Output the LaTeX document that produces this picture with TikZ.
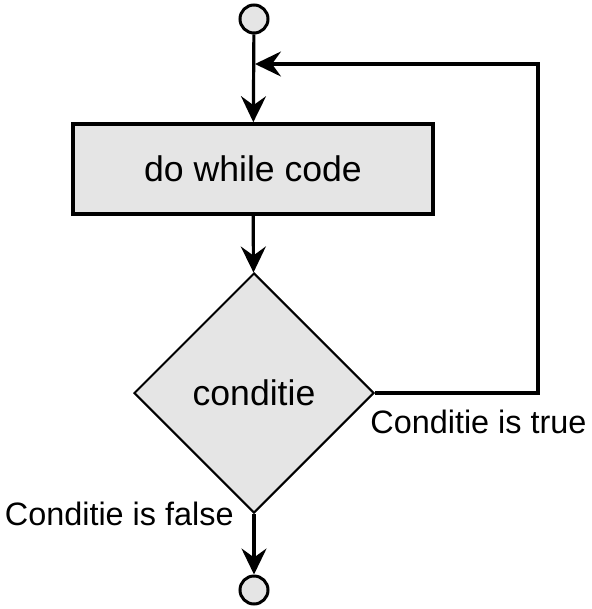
\documentclass[tikz,border=0pt]{standalone}
\usepackage{fontspec}
\setmainfont{Liberation Sans}
\usetikzlibrary{arrows.meta,shapes.geometric}

\begin{document}
\begin{tikzpicture}[x=0.5pt,y=-0.5pt,
   flow/.style={line width=1.6pt,-{Stealth[length=13pt,width=12.5pt,inset=4.5pt]}},
   terminal/.style={circle,draw,line width=1.5pt,fill=black!10,minimum size=14pt,inner sep=0pt},
   codebox/.style={rectangle,draw,line width=1.8pt,fill=black!10,minimum width=180pt,minimum height=45pt,font=\fontsize{17.8}{20}\selectfont},
   test/.style={diamond,draw,line width=1pt,fill=black!10,minimum width=120pt,minimum height=120pt,inner sep=0pt,font=\fontsize{17.8}{20}\selectfont},
   lbl/.style={inner sep=0pt,font=\fontsize{16.2}{18}\selectfont}]
   \useasboundingbox (0,0) rectangle (591,609);
   % nodes
   \node[terminal] (start) at (254,19) {};
   \node[codebox] (code) at (253,169) {do while code};
   \node[test] (cond) at (254,393) {conditie};
   \node[terminal] (stop) at (254,590) {};
   \coordinate (merge) at (255,64);
   \coordinate (corner) at (538,64);
   % connectors
   \draw[flow] (start) -- (code);
   \draw[flow] (code) -- (cond);
   \draw[flow] (cond.east) -- (cond.east -| corner) -- (corner) -- (merge);
   \draw[flow] (cond) -- (stop);
   % labels
   \node[lbl,anchor=base west] (truelbl) at (370,433) {Conditie is true};
   \node[lbl,anchor=base east] (falselbl) at (234,525) {Conditie is false};
  \end{tikzpicture}
\end{document}
